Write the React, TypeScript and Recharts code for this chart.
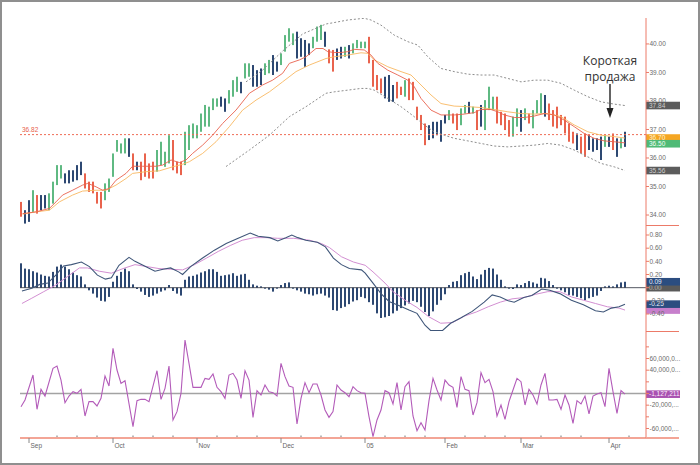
import React from 'react';
import { ComposedChart, Bar, Line, XAxis, YAxis, ReferenceLine } from 'recharts';

// trading-day index on the x axis, 0 = 30 Aug 2004
const X_DOMAIN: [number, number] = [-0.25, 156.25];

const monthTicks = [2, 23, 44, 65, 86, 106, 125, 147];
const monthNames = ['Sep', 'Oct', 'Nov', 'Dec', '05', 'Feb', 'Mar', 'Apr'];
const weekTicks = [9, 14, 19, 28, 33, 38, 49, 54, 59, 70, 75, 80, 91, 96, 101, 111, 116, 121, 130, 135, 140, 152];

// price bars
const barHigh = [
  34.46, 34.17, 34.52, 34.87, 34.7, 34.7, 34.7, 34.76, 35.17, 35.75, 35.75, 35.46, 35.57, 35.57, 35.75, 35.87,
  35.46, 35.17, 35.17, 34.81, 34.81, 35.11, 35.28, 36.16, 36.63, 36.51, 36.69, 36.69, 36.16, 35.87, 35.87, 36.16,
  35.81, 35.87, 36.28, 36.57, 36.22, 36.8, 36.63, 35.87, 35.87, 36.92, 37.15, 37.21, 37.15, 37.56, 37.86, 37.8,
  38.09, 38.09, 38.15, 38.09, 38.38, 38.73, 38.85, 38.67, 39.32, 39.32, 39.26, 39.08, 39.14, 39.32, 39.44, 39.61,
  39.38, 39.67, 40.31, 40.55, 40.37, 40.43, 40.2, 40.14, 40.02, 40.25, 40.61, 40.67, 40.43, 39.81, 39.79, 39.84,
  39.9, 39.9, 39.96, 40.02, 40.14, 40.08, 40.08, 40.25, 39.44, 38.91, 38.79, 38.85, 38.91, 38.56, 38.67, 38.5,
  38.73, 38.79, 38.67, 37.8, 37.51, 37.21, 37.15, 37.27, 37.27, 37.33, 37.51, 37.68, 37.56, 37.56, 37.74, 37.86,
  37.97, 37.8, 37.68, 37.86, 38.03, 38.5, 38.15, 38.15, 37.62, 37.56, 37.33, 37.45, 37.74, 37.68, 37.74, 37.56,
  37.68, 38.03, 38.27, 38.21, 37.91, 37.68, 37.8, 37.51, 37.45, 37.21, 36.92, 36.86, 36.75, 36.86, 36.8, 36.69,
  36.69, 36.75, 36.8, 36.75, 36.86, 36.69, 36.69, 36.92,
];
const barLow = [
  33.94, 33.7, 33.76, 34.11, 34.05, 34.17, 34.23, 34.17, 34.4, 35.05, 35.28, 35.11, 35.11, 35.17, 35.22, 35.4,
  34.93, 34.81, 34.76, 34.4, 34.23, 34.52, 34.81, 35.34, 36.22, 36.16, 36.16, 36.04, 35.57, 35.57, 35.22, 35.34,
  35.28, 35.28, 35.52, 35.75, 35.69, 35.81, 35.57, 35.46, 35.4, 35.75, 36.28, 36.69, 36.69, 36.92, 37.1, 37.1,
  37.68, 37.8, 37.8, 37.62, 37.91, 38.15, 38.32, 38.27, 38.79, 38.85, 38.5, 38.5, 38.56, 38.91, 38.97, 38.91,
  39.03, 39.26, 39.73, 40.08, 39.96, 39.49, 39.55, 39.2, 39.61, 39.85, 40.08, 40.14, 39.9, 39.32, 39.03, 39.44,
  39.49, 39.55, 39.49, 39.67, 39.85, 39.85, 39.85, 39.32, 38.5, 38.38, 38.27, 38.09, 37.97, 37.97, 38.09, 38.21,
  38.15, 38.03, 38.03, 37.33, 36.98, 36.45, 36.63, 36.69, 36.8, 36.57, 37.21, 37.33, 37.21, 36.98, 37.15, 37.56,
  37.56, 37.56, 36.98, 37.1, 36.98, 37.68, 37.68, 37.21, 37.15, 36.98, 36.75, 36.75, 37.1, 36.92, 37.33, 37.21,
  37.04, 37.56, 37.56, 37.45, 37.33, 37.1, 37.04, 37.15, 36.86, 36.57, 36.51, 36.28, 36.16, 36.04, 36.28, 36.22,
  36.28, 35.93, 36.39, 36.39, 36.28, 36.04, 36.34, 36.39,
];
const barTone = (
  'rbbgrbbgggg' + 'bbbbb' + 'rrrrr' + 'gggggg' + 'brbrrrr' + 'gggg' + 'rrr' + 'ggggggggg' + 'bb' + 'gggb' + 'gg' +
  'bbb' + 'gg' + 'bb' + 'gggg' + 'bbbb' + 'ggg' + 'b' + 'rr' + 'bbgb' + 'gggg' + 'rrrr' + 'bbb' + 'rrgrr' + 'rrr' +
  'bbbbb' + 'grrggbg' + 'rbggg' + 'rrrr' + 'ggbgrgggb' + 'rrrrrrr' + 'brr' + 'bbbb' + 'gbrbgb'
).split('');

const maFast = [
  [0.4, 34.05], [3.75, 34.11], [7.1, 34.23], [8.75, 34.46], [10.4, 34.7], [12.9, 34.87], [15.4, 35.05], [16.7, 35.11],
  [18.75, 34.99], [20.4, 34.87], [22.1, 34.93], [23.75, 35.22], [26.25, 35.46], [27.9, 35.71], [30.4, 35.71], [33.75, 35.71],
  [35.4, 35.75], [37.5, 35.93], [39.6, 35.84], [41.25, 35.93], [42.9, 36.16], [45.4, 36.45], [47.9, 36.8], [50.4, 37.21],
  [53.75, 37.68], [57.1, 38.27], [60.4, 38.56], [62.9, 38.73], [65.4, 38.97], [67.1, 39.32], [69.6, 39.44], [71.25, 39.55],
  [73.75, 39.84], [75.5, 39.84], [76.7, 39.73], [78.3, 39.7], [80, 39.7], [81.7, 39.73], [83.3, 39.81], [85.8, 39.79],
  [87.5, 39.61], [89.2, 39.32], [91.7, 39.08], [94.2, 38.91], [96.7, 38.73], [98.3, 38.5], [100, 38.09], [102.5, 37.68],
  [105, 37.51], [108.3, 37.51], [110.8, 37.54], [113.3, 37.59], [115, 37.7], [117.5, 37.7], [119.2, 37.62], [120.8, 37.51],
  [123.3, 37.42], [125.8, 37.42], [128.3, 37.47], [130.8, 37.56], [133.3, 37.51], [135.8, 37.33], [138.3, 37.1], [140.8, 36.86],
  [143.3, 36.69], [145.8, 36.6], [148.3, 36.57], [151, 36.53],
];
const maSlow = [
  [0.4, 34.03], [3.75, 34.11], [7.1, 34.17], [9.6, 34.46], [12.9, 34.7], [15.4, 34.84], [18.75, 34.87], [21.25, 34.87],
  [23.75, 35.05], [26.25, 35.28], [27.9, 35.46], [31.25, 35.52], [34.6, 35.55], [37.9, 35.69], [40.4, 35.78], [42.1, 35.87],
  [45.4, 36.16], [48.75, 36.57], [52.1, 37.1], [55.4, 37.68], [58.75, 38.03], [62.1, 38.32], [65.4, 38.67], [68.75, 39.03],
  [72.1, 39.26], [76.25, 39.49], [78.3, 39.55], [81.7, 39.61], [85, 39.69], [86.7, 39.67], [88.3, 39.44], [91.7, 39.2],
  [95, 39.03], [97.5, 38.91], [100, 38.56], [102.5, 38.21], [105, 37.91], [108.3, 37.82], [111.7, 37.8], [115, 37.77],
  [118.3, 37.7], [121.7, 37.62], [125, 37.56], [128.3, 37.54], [131.7, 37.56], [135, 37.45], [138.3, 37.16], [141.7, 36.92],
  [145, 36.8], [148.3, 36.75], [151, 36.7],
];
const bandUpper = [
  [56.25, 38.67], [60.4, 39.08], [65.4, 39.75], [70.4, 40.35], [76.25, 40.7], [78.3, 40.75], [81.7, 40.84], [85.8, 40.9],
  [87.5, 40.84], [90, 40.66], [93.3, 40.31], [96.7, 40.08], [99.2, 39.96], [101.7, 39.55], [105, 39.14], [108.3, 39.03],
  [111.7, 38.94], [115, 38.91], [118.3, 38.91], [121.7, 38.79], [125, 38.67], [128.3, 38.73], [131.7, 38.73], [135, 38.62],
  [138.3, 38.38], [141.7, 38.15], [145, 37.97], [148.3, 37.89], [151, 37.84],
];
const bandLower = [
  [51.25, 35.7], [57.1, 36.28], [62.1, 36.8], [67.1, 37.45], [71.25, 37.8], [76.25, 38.27], [78.3, 38.32], [81.7, 38.38],
  [85, 38.44], [86.7, 38.44], [88.3, 38.38], [91.7, 38.09], [95, 37.8], [98.3, 37.45], [100.8, 37.16], [103.3, 36.92],
  [105.8, 36.8], [108.3, 36.69], [111.7, 36.6], [115, 36.51], [118.3, 36.42], [121.7, 36.39], [125, 36.42], [128.3, 36.45],
  [131.7, 36.51], [135, 36.45], [138.3, 36.28], [141.7, 36.04], [145, 35.81], [148.3, 35.69], [151, 35.56],
];

// MACD panel
const macdHist = [
  0.37, 0.29, 0.28, 0.25, 0.23, 0.2, 0.18, 0.17, 0.24, 0.32, 0.35, 0.32, 0.28, 0.23, 0.19, 0.17,
  0.05, -0.04, -0.09, -0.15, -0.2, -0.21, -0.14, 0.09, 0.18, 0.24, 0.29, 0.25, 0.05, -0.02, -0.06, -0.11,
  -0.14, -0.12, -0.09, -0.06, -0.04, 0.04, -0.05, -0.09, -0.12, 0.12, 0.17, 0.18, 0.2, 0.23, 0.25, 0.28,
  0.28, 0.24, 0.18, 0.19, 0.2, 0.22, 0.18, 0.2, 0.21, 0.12, 0.05, 0.03, 0.02, 0.0, -0.03, -0.06,
  -0.01, 0.04, 0.07, 0.08, -0.01, -0.04, -0.06, -0.09, -0.1, -0.12, -0.1, -0.09, -0.12, -0.15, -0.34, -0.35,
  -0.31, -0.29, -0.25, -0.21, -0.19, -0.14, -0.16, -0.22, -0.26, -0.39, -0.46, -0.45, -0.43, -0.39, -0.35, -0.31,
  -0.27, -0.24, -0.2, -0.22, -0.29, -0.37, -0.43, -0.36, -0.26, -0.19, -0.1, 0.04, 0.09, 0.1, 0.19, 0.22,
  0.24, 0.17, 0.13, 0.2, 0.27, 0.3, 0.29, 0.2, 0.12, 0.02, 0.0, -0.02, 0.05, 0.04, 0.07, 0.1,
  0.08, 0.06, 0.15, 0.14, 0.1, 0.04, -0.01, -0.04, -0.07, -0.11, -0.12, -0.14, -0.16, -0.19, -0.16, -0.14,
  -0.12, -0.05, 0.02, 0.03, 0.02, 0.05, 0.08, 0.09,
];
const macdLine = [
  [0.24, -0.05], [2.7, -0.01], [4.7, 0.05], [6.7, 0.07], [8.7, 0.19], [10.65, 0.33], [12.6, 0.35], [15.1, 0.39],
  [17.1, 0.32], [19.1, 0.19], [21.1, 0.13], [22.6, 0.15], [24.5, 0.34], [27, 0.46], [28.5, 0.4], [30.5, 0.34],
  [33.5, 0.25], [35.5, 0.28], [37.4, 0.3], [39.4, 0.24], [40.4, 0.2], [42.4, 0.32], [45.4, 0.45], [48.35, 0.57],
  [51.3, 0.67], [54.3, 0.75], [57.3, 0.83], [59.3, 0.78], [62.2, 0.76], [64.2, 0.71], [66.2, 0.76], [67.7, 0.8],
  [69.2, 0.76], [71.2, 0.72], [74.1, 0.69], [76.1, 0.62], [78.1, 0.45], [80.1, 0.35], [82.1, 0.29], [85.1, 0.27],
  [86.05, 0.22], [88, 0.07], [90, -0.09], [92, -0.21], [94, -0.26], [97, -0.34], [99, -0.39], [101, -0.57],
  [102.4, -0.65], [105.4, -0.65], [107.4, -0.54], [109.9, -0.46], [112.8, -0.36], [115.8, -0.22], [117.8, -0.11], [119.8, -0.14],
  [121.8, -0.2], [123.3, -0.22], [125.7, -0.15], [127.7, -0.12], [130.2, -0.02], [132.2, -0.04], [134.7, -0.09], [137.6, -0.19],
  [140.6, -0.26], [143.6, -0.35], [145.6, -0.37], [147.6, -0.31], [149.5, -0.29], [151, -0.25],
];
const macdSignal = [
  [0.24, -0.24], [2.7, -0.16], [5.7, -0.06], [8.7, 0.04], [11.65, 0.17], [14.6, 0.3], [16.6, 0.3], [19.6, 0.25],
  [22.6, 0.22], [25.5, 0.29], [28.5, 0.35], [31.5, 0.32], [34.5, 0.29], [37.4, 0.28], [40.4, 0.27], [43.4, 0.35],
  [46.4, 0.45], [49.3, 0.55], [52.3, 0.64], [55.3, 0.72], [58.3, 0.76], [61.25, 0.76], [64.2, 0.75], [68.2, 0.75],
  [72.2, 0.72], [75.1, 0.67], [77.1, 0.61], [80.1, 0.47], [83.1, 0.39], [86.05, 0.34], [88, 0.24], [91, 0.07],
  [93, -0.06], [96, -0.19], [99, -0.3], [101.9, -0.44], [104.9, -0.54], [107.9, -0.53], [110.9, -0.43], [113.8, -0.37],
  [116.8, -0.29], [119.8, -0.22], [122.75, -0.17], [125.7, -0.15], [128.7, -0.1], [131.7, -0.06], [134.7, -0.06], [137.6, -0.14],
  [140.6, -0.19], [143.6, -0.24], [146.6, -0.29], [149.5, -0.31], [151, -0.34],
];

// oscillator panel, millions
const oscPoints = [
  [0, -22.6], [1, -11.1], [3, 31.7], [4, -27.1], [5, 7.1], [6, -4.3], [8, 43.1], [9, 47.1], [10, 23.1], [11, -15.7],
  [12, -4.3], [13, 3.1], [14, 0.3], [15, 7.1], [16, -38.6], [17, -14], [18, -14], [19, -21.4], [20, -8.3], [21, 30],
  [22, 12.9], [23, 77.4], [24, 40.3], [25, 17.4], [26, 22], [28, -56.9], [29, -12.3], [30, -10], [31, -10], [32, -14],
  [34, 39.1], [35, -10], [36, 8.9], [37, 47.1], [38, -45.4], [39, -31.1], [40, 0.3], [41, 91.7], [42, 51.7], [43, 10.6],
  [44, 10.6], [45, 10.6], [46, 26], [47, 24.3], [48, 33.4], [49, 10.6], [50, 3.1], [51, -8.3], [52, 31.7], [53, 34.6],
  [54, 23.1], [55, -8.3], [56, 39.1], [57, 23.1], [58, -40.9], [59, 4.9], [60, -2.6], [61, 14.6], [62, 3.1], [63, 1.4],
  [64, -4.3], [65, 51.7], [66, 28.9], [67, 12.9], [68, 10.6], [69, -52.3], [70, -8.3], [71, 18.6], [72, 1.4], [73, 16.3],
  [74, 16.3], [75, -2.6], [76, -28.3], [77, -40.9], [78, -31.1], [79, 14.6], [80, 6], [81, 1.4], [82, -5.4], [83, 11.7],
  [84, 4.9], [85, 1.4], [86, 0.3], [87, -39.7], [88, -74], [89, -45.4], [90, -28.3], [91, 4.9], [92, 1.4], [93, -18],
  [94, 18.6], [95, -28.3], [96, 11.7], [97, 20.3], [98, -38.6], [99, -63.7], [100, -50], [101, -62.6], [102, -12.3], [103, 26],
  [104, 6], [105, -11.1], [106, 23.1], [107, 14.6], [108, 10.6], [109, -23.7], [110, 28.9], [111, 7.1], [112, 4.9], [113, -36.9],
  [114, -15.7], [115, 35.7], [116, 18.6], [117, 24.3], [118, 3.1], [119, -38.6], [120, -19.7], [121, -44.3], [122, -14], [123, 6],
  [124, 26], [125, 20.3], [126, -19.7], [127, 7.1], [128, -2.6], [129, -18], [130, 14.6], [131, 34.6], [132, -11.1], [133, -11.1],
  [134, -10], [135, -27.1], [136, -2.6], [137, -19.7], [138, -51.1], [139, -12.3], [140, -18], [141, -4.3], [142, -35.1], [143, -4.3],
  [144, -0.9], [145, 1.4], [146, -22.6], [147, 43.1], [148, 3.1], [149, -34], [150, 4.9], [151, -1.13],
];
const oscLast = -1127211;

const priceTicks = [34, 35, 36, 37, 38, 39, 40];
const macdTicks = [0.8, 0.6, 0.4, 0.2, 0, -0.2, -0.4];
const oscTicks = [80, 60, 40, 20, 0, -20, -40, -60];
const oscLabelled = [60, 40, -20, -60];

const TONE: Record<string, string> = { g: '#5fb982', b: '#2d4872', r: '#e9634d' };
const AXIS_RED = '#ec7a68';
const FONT = '"Liberation Sans", Arial, sans-serif';

const barRows = barHigh.map((h, i) => ({ i, range: [barLow[i], h], tone: barTone[i] }));
const histRows = macdHist.map((h, i) => ({ i, h }));
const toRows = (pts: number[][]) => pts.map(([i, v]) => ({ i, v }));

// thin 2px stick centred on the bar slot, crisp on the pixel grid
const stick = (colorOf: (p: any) => string) => (p: any) => {
  const cx = Math.round(p.x + p.width / 2);
  const top = Math.min(p.y, p.y + p.height);
  const h = Math.max(Math.abs(p.height), 1);
  return <rect x={cx - 1} y={top} width={2} height={h} fill={colorOf(p)} />;
};

const rightTick = (fmt: (v: number) => string, show?: number[]) => (p: any) => {
  const v = p.payload.value;
  const label = !show || show.includes(v);
  return (
    <g>
      <line x1={p.x} x2={p.x + 3} y1={p.y} y2={p.y} stroke={AXIS_RED} />
      {label && (
        <text x={p.x + 3.5} y={p.y + 2.2} fontSize={6.5} fill="#6b6b6b" fontFamily={FONT}>
          {fmt(v)}
        </text>
      )}
    </g>
  );
};

// value tag on the right axis; text may be empty when the reference hides it
const tag = (text: string, bg: string, fg: string) => (p: any) => {
  const vb = p.viewBox;
  const x = vb.x + vb.width;
  return (
    <g>
      <rect x={x} y={vb.y - 3.8} width={34} height={7.6} fill={bg} />
      {text && (
        <text x={x + 3} y={vb.y + 2.3} fontSize={6.5} fill={fg} fontFamily={FONT}>
          {text}
        </text>
      )}
    </g>
  );
};

const lastPriceLabel = (p: any) => (
  <text x={p.viewBox.x + 2} y={p.viewBox.y - 2.5} fontSize={6.5} fill="#e8604c" fontFamily={FONT}>
    36.82
  </text>
);

const xTick = (p: any) => {
  const k = monthTicks.indexOf(p.payload.value);
  if (k >= 0) {
    return (
      <g>
        <line x1={p.x} x2={p.x} y1={p.y} y2={p.y + 5} stroke="#888" />
        <text x={p.x + 1.5} y={p.y + 9.5} fontSize={6.5} fill="#666" fontFamily={FONT}>
          {monthNames[k]}
        </text>
      </g>
    );
  }
  return <line x1={p.x} x2={p.x} y1={p.y - 2.5} y2={p.y - 1} stroke="#777" />;
};

const oscFmt = (v: number) => {
  const s = (v * 1e6).toLocaleString('en-US');
  return s.length > 8 ? s.slice(0, 8) + '...' : s;
};

const yAxisCommon = {
  orientation: 'right' as const,
  width: 34,
  axisLine: { stroke: AXIS_RED },
  tickLine: false,
  tickSize: 0,
  tickMargin: 0,
  interval: 0 as const,
  allowDataOverflow: true,
};

const abs = (top: number): React.CSSProperties => ({ position: 'absolute', left: 0, top });

export default function App() {
  return (
    <div style={{ position: 'absolute', left: 0, top: 0, width: 700, height: 465, background: '#fff', fontFamily: FONT }}>
      <div style={abs(0)}>
        <ComposedChart width={700} height={226} data={barRows} margin={{ top: 18, right: 20, bottom: 1, left: 20 }}>
          <XAxis dataKey="i" type="number" domain={X_DOMAIN} hide allowDataOverflow />
          <YAxis {...yAxisCommon} domain={[33.65, 40.91]} ticks={priceTicks} tick={rightTick((v) => v.toFixed(2))} />
          <ReferenceLine y={36.82} stroke="#ef6b55" strokeDasharray="2 2" label={lastPriceLabel} />
          <Bar dataKey="range" barSize={2} isAnimationActive={false} shape={stick((p) => TONE[p.payload.tone])} />
          <Line data={toRows(bandUpper)} dataKey="v" stroke="#8d8d8d" strokeDasharray="2 2" strokeWidth={1} dot={false} isAnimationActive={false} />
          <Line data={toRows(bandLower)} dataKey="v" stroke="#8d8d8d" strokeDasharray="2 2" strokeWidth={1} dot={false} isAnimationActive={false} />
          <Line data={toRows(maSlow)} dataKey="v" stroke="#f8b861" strokeWidth={0.9} dot={false} isAnimationActive={false} />
          <Line data={toRows(maFast)} dataKey="v" stroke="#e9624e" strokeWidth={0.9} dot={false} isAnimationActive={false} />
          <ReferenceLine y={37.84} stroke="none" label={tag('37.84', '#5c5c5c', '#cfcfcf')} />
          <ReferenceLine y={35.56} stroke="none" label={tag('35.56', '#5c5c5c', '#cfcfcf')} />
          <ReferenceLine y={36.7} stroke="none" label={tag('36.70', '#f5a623', '#fff3d6')} />
          <ReferenceLine y={36.5} stroke="none" label={tag('36.50', '#4fba76', '#f2fff6')} />
        </ComposedChart>
      </div>

      <div style={abs(219)}>
        <ComposedChart width={700} height={113} data={histRows} margin={{ top: 6, right: 20, bottom: 1, left: 20 }}>
          <XAxis dataKey="i" type="number" domain={X_DOMAIN} hide allowDataOverflow />
          <YAxis {...yAxisCommon} domain={[-0.658, 0.952]} ticks={macdTicks} tick={rightTick((v) => v.toFixed(2))} />
          <Bar dataKey="h" barSize={2} fill="#2d4872" isAnimationActive={false} shape={stick(() => '#2d4872')} />
          <ReferenceLine y={0} stroke="#2a2f3a" strokeWidth={0.8} />
          <Line data={toRows(macdSignal)} dataKey="v" stroke="#d38fd2" strokeWidth={1} dot={false} isAnimationActive={false} />
          <Line data={toRows(macdLine)} dataKey="v" stroke="#3f5679" strokeWidth={1.1} dot={false} isAnimationActive={false} />
          <ReferenceLine y={0} stroke="none" label={tag('0.00', '#5a5a5a', '#cfcfcf')} />
          <ReferenceLine y={0.09} stroke="none" label={tag('0.09', '#2b4d80', '#e8eefa')} />
          <ReferenceLine y={-0.34} stroke="none" label={tag('', '#c77fcc', '#fbeefd')} />
          <ReferenceLine y={-0.25} stroke="none" label={tag('-0.25', '#2b4d80', '#e8eefa')} />
        </ComposedChart>
      </div>

      <div style={abs(326)}>
        <ComposedChart width={700} height={139} data={toRows(oscPoints)} margin={{ top: 5, right: 20, bottom: 1, left: 20 }}>
          <XAxis
            dataKey="i"
            type="number"
            domain={X_DOMAIN}
            allowDataOverflow
            height={26}
            ticks={[...monthTicks, ...weekTicks].sort((a, b) => a - b)}
            interval={0}
            axisLine={{ stroke: '#f3a596', strokeWidth: 2 }}
            tickLine={false}
            tickSize={0}
            tickMargin={0}
            tick={xTick}
          />
          <YAxis {...yAxisCommon} domain={[-76.3, 107.2]} ticks={oscTicks} tick={rightTick(oscFmt, oscLabelled)} />
          <ReferenceLine y={0} stroke="#a3a3a3" strokeWidth={1.5} />
          <Line dataKey="v" stroke="#b35bb9" strokeWidth={1.1} dot={false} isAnimationActive={false} />
          <ReferenceLine y={oscLast / 1e6} stroke="none" label={tag(oscLast.toLocaleString('en-US'), '#a952b1', '#fbeefd')} />
        </ComposedChart>
      </div>

      {/* short separators and axis run-out right of the value axis */}
      <div style={{ position: 'absolute', left: 646, top: 225, width: 33, height: 1, background: AXIS_RED }} />
      <div style={{ position: 'absolute', left: 646, top: 331, width: 33, height: 1, background: AXIS_RED }} />
      <div style={{ position: 'absolute', left: 646, top: 437, width: 33, height: 2, background: '#f3a596' }} />

      <div style={{ position: 'absolute', left: 560, top: 53, width: 100, textAlign: 'center', fontFamily: '"Open Sans", sans-serif', fontSize: 12, lineHeight: '16px', color: '#333' }}>
        Короткая
        <br />
        продажа
      </div>
      <svg style={{ position: 'absolute', left: 600, top: 80 }} width={20} height={42}>
        <line x1={10} x2={10} y1={4} y2={30} stroke="#222" strokeWidth={1.4} />
        <polygon points="6.5,28 13.5,28 10,38" fill="#222" />
      </svg>

      <div style={{ position: 'absolute', left: 0, top: 0, width: 700, height: 465, boxSizing: 'border-box', border: '2px solid #8f8f8f', pointerEvents: 'none' }} />
    </div>
  );
}
